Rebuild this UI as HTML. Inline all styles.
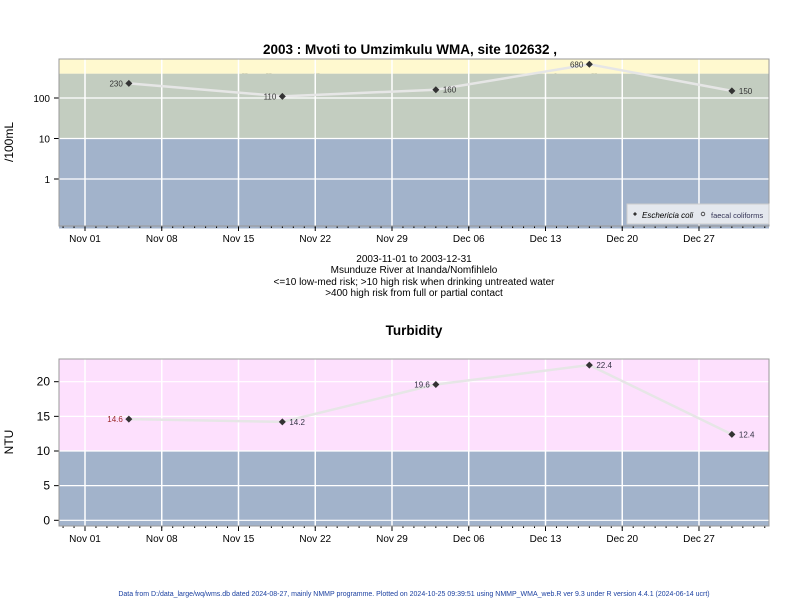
<!DOCTYPE html>
<html><head><meta charset="utf-8"><style>
body{margin:0;background:#fff;}
svg{display:block;font-family:"Liberation Sans",sans-serif;}
</style></head><body>
<svg id="c" width="800" height="600" viewBox="0 0 800 600" xmlns="http://www.w3.org/2000/svg">
<text x="410" y="54" text-anchor="middle" font-size="13.5" font-weight="bold">2003 : Mvoti to Umzimkulu WMA, site 102632 ,</text>
<text x="410" y="72" text-anchor="middle" font-size="13.5" font-weight="bold">showing high risk guidelines for indicators of microbial pathogens.</text>
<g font-size="10" text-anchor="middle">
<text x="414" y="262">2003-11-01 to 2003-12-31</text>
<text x="414" y="273">Msunduze River at Inanda/Nomfihlelo</text>
<text x="414" y="285">&lt;=10 low-med risk; &gt;10 high risk when drinking untreated water</text>
<text x="414" y="296">&gt;400 high risk from full or partial contact</text>
</g>
<text x="414" y="335" text-anchor="middle" font-size="13.5" font-weight="bold">Turbidity</text>
<text transform="translate(13,142) rotate(-90)" text-anchor="middle" font-size="12">/100mL</text>
<text transform="translate(13,442) rotate(-90)" text-anchor="middle" font-size="12">NTU</text>
<text x="414" y="596" text-anchor="middle" font-size="7" fill="#1a3fa0">Data from D:/data_large/wq/wms.db dated 2024-08-27, mainly NMMP programme. Plotted on 2024-10-25 09:39:51 using NMMP_WMA_web.R ver 9.3 under R version 4.4.1 (2024-06-14 ucrt)</text>
<g id="gtop"></g>
<g id="gbot"></g>
</svg>
<script>
const dates = ["2003-11-05","2003-11-19","2003-12-03","2003-12-17","2003-12-30"];
const ecoli = [230,110,160,680,150];
const turb = [14.6,14.2,19.6,22.4,12.4];
const turbLabels = ["14.6","14.2","19.6","22.4","12.4"];
const xTickLabels = ["Nov 01","Nov 08","Nov 15","Nov 22","Nov 29","Dec 06","Dec 13","Dec 20","Dec 27"];
const logTicks = [1,10,100];
const ntuTicks = [0,5,10,15,20];

const NS="http://www.w3.org/2000/svg";
const L=59,R=769;
const day0=Date.UTC(2003,10,1);
function dayOf(s){const p=s.split("-");return (Date.UTC(+p[0],+p[1]-1,+p[2])-day0)/86400000;}
function X(d){return 85+d*10.964;}
function mk(parent,tag,attrs,txt){const e=document.createElementNS(NS,tag);for(const k in attrs)e.setAttribute(k,attrs[k]);if(txt!==undefined)e.textContent=txt;parent.appendChild(e);return e;}

function panel(g,pTop,pBot,Y,bands,yTicks,yLab,vals,labs,labSide,labColor){
  for(const b of bands){
    const r=mk(g,"rect",{x:L,y:Y(b[1]),width:R-L,height:Y(b[0])-Y(b[1]),fill:b[2]});
    
    
  }
  for(let i=0;i<xTickLabels.length;i++){
    const x=X(i*7);
    mk(g,"line",{x1:x,x2:x,y1:pTop,y2:pBot,stroke:"#fff","stroke-width":1.5});
    mk(g,"line",{x1:x,x2:x,y1:pBot,y2:pBot+5,stroke:"#000"});
    const t=mk(g,"text",{x:x,y:pBot+16,"text-anchor":"middle","font-size":10},xTickLabels[i]);
    
    
  }
  for(let d=-2;d<=62;d++){const x=X(d);if(x<L||x>R)continue;mk(g,"line",{x1:x,x2:x,y1:pBot,y2:pBot+2,stroke:"#000"});}
  for(let i=0;i<yTicks.length;i++){
    const y=Y(yTicks[i]);
    mk(g,"line",{x1:L,x2:R,y1:y,y2:y,stroke:"#fff","stroke-width":1.2});
    mk(g,"line",{x1:L-5,x2:L,y1:y,y2:y,stroke:"#000"});
    const t=mk(g,"text",{x:L-9,y:y+4,"text-anchor":"end","font-size":yLab},String(yTicks[i]));
    
    
  }
  const b=mk(g,"rect",{x:L,y:pTop,width:R-L,height:pBot-pTop,fill:"none",stroke:"#999"});
  
  
  const pts=dates.map((d,i)=>[X(dayOf(d)),Y(vals[i])]);
  const pl=mk(g,"polyline",{points:pts.map(p=>p.join(",")).join(" "),fill:"none",stroke:"#e6e6e6","stroke-width":2.5});
  
  
  pts.forEach((p,i)=>{
    const c=mk(g,"path",{d:`M${p[0]-3.5},${p[1]} L${p[0]},${p[1]-3.5} L${p[0]+3.5},${p[1]} L${p[0]},${p[1]+3.5}Z`,fill:"#333"});
    
    
    const left=labSide[i]<0;
    const t=mk(g,"text",{x:p[0]+(left?-6:7),y:p[1]+3,"text-anchor":left?"end":"start","font-size":8,fill:labColor[i]},labs[i]);
    
    
  });
}
const gTop=document.getElementById("gtop"),gBot=document.getElementById("gbot");




const Ylog=v=>98-(Math.log10(v)-2)*40.5;
panel(gTop,59,226,Ylog,[[0.06,10,"#a2b3cb"],[10,400,"#c3cdc0"],[400,918,"#fff9cf"]],logTicks,10,ecoli,ecoli.map(String),[-1,-1,1,-1,1],["#333","#333","#333","#333","#333"]);
const Yn=v=>520.3-v*6.93;
panel(gBot,359,526,Yn,[[-0.8,10,"#a2b3cb"],[10,23.3,"#fde0fd"]],ntuTicks,12,turb,turbLabels,[-1,1,-1,1,1],["#9b2a2a","#334","#334","#334","#334"]);
const lg=mk(gTop,"g",{});


mk(lg,"rect",{x:627,y:204,width:142,height:20,fill:"#e4e8ee",stroke:"#ccc"});
mk(lg,"path",{d:"M633,214 L635,212 L637,214 L635,216Z",fill:"#333"});
const e1=mk(lg,"text",{x:642,y:218,"font-size":8,"font-style":"italic"},"Eschericia coli");


mk(lg,"circle",{cx:703,cy:214,r:1.8,fill:"none",stroke:"#333","stroke-width":0.8});
const e2=mk(lg,"text",{x:711,y:218,"font-size":7.5,fill:"#335"},"faecal coliforms");


</script>
</body></html>
